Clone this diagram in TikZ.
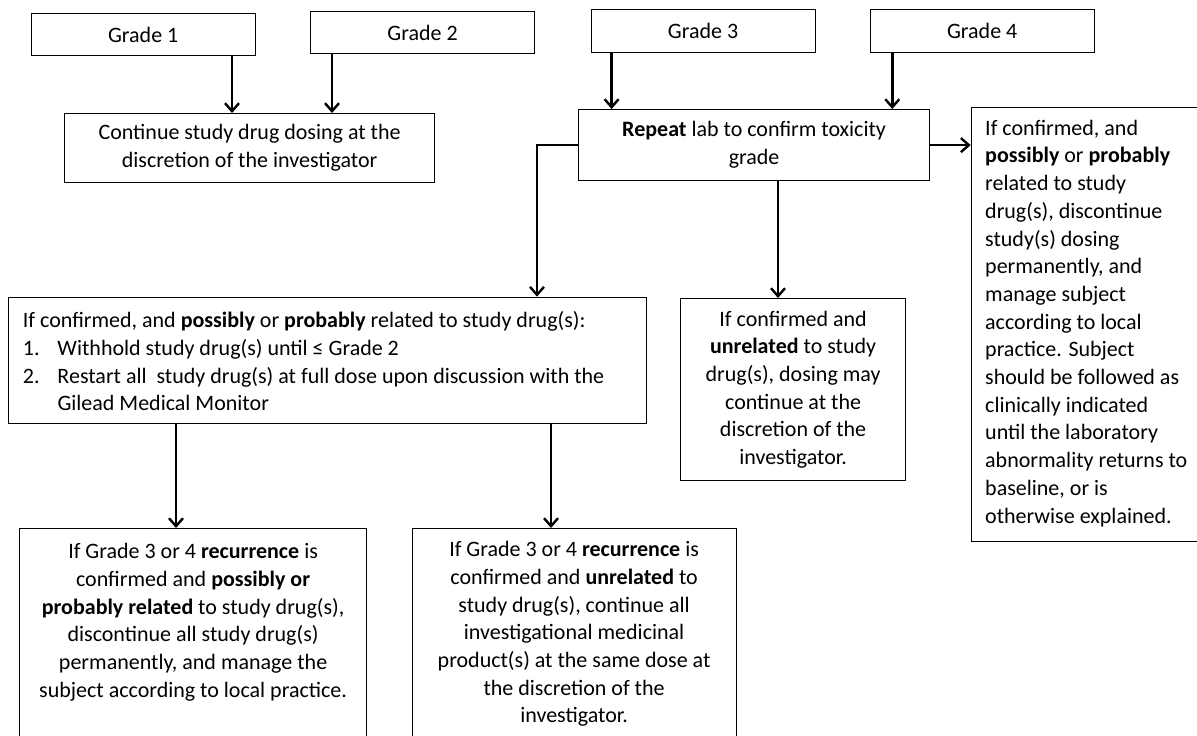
\documentclass[tikz,border=0pt]{standalone}
\usepackage{fontspec}
\setmainfont{Carlito}
\usetikzlibrary{arrows.meta,calc}
\begin{document}
\begin{tikzpicture}[x=1pt,y=-1pt,
  box/.style={draw, line width=1.2pt, inner sep=0pt, anchor=north west,
    font=\fontsize{22}{27.7}\selectfont},
  txt/.style={inner sep=0pt, anchor=west, align=left,
    font=\fontsize{22}{27.7}\selectfont},
  arr/.style={line width=2.4pt, -{Straight Barb[length=8pt,width=14pt]}},
]
\useasboundingbox (0,0) rectangle (1197,736);
\clip (0,0) rectangle (1197,736);

\node[box, minimum width=224pt, minimum height=42pt] (g1) at (30.6,13) {Grade 1};
\node[box, minimum width=224pt, minimum height=42pt] (g2) at (310,11) {Grade 2};
\node[box, minimum width=224pt, minimum height=43pt] (g3) at (590.5,9) {Grade 3};
\node[box, minimum width=224pt, minimum height=43pt] (g4) at (869.6,9) {Grade 4};

\node[box, align=center, minimum width=370pt, minimum height=69pt] (cont) at (64,113)
  {Continue study drug dosing at the\\discretion of the investigator};
\node[box, align=center, minimum width=351pt, minimum height=71pt] (rep) at (578,109)
  {\textbf{Repeat} lab to confirm toxicity\\grade};

\node[box, minimum width=226pt, minimum height=434pt] (rb) at (970.7,106.7) {};
\node[txt] (rbt) at ($(rb.west)+(14.3,-1)$)
  {If confirmed, and\\\textbf{possibly} or \textbf{probably}\\related to study\\drug(s), discontinue\\study(s) dosing\\permanently, and\\manage subject\\according to local\\practice. Subject\\should be followed as\\clinically indicated\\until the laboratory\\abnormality returns to\\baseline, or is\\otherwise explained.};

\node[box, minimum width=638pt, minimum height=126pt] (big) at (8,296.7) {};
\node[txt] (bigt) at ($(big.west)+(14.7,1)$)
  {If confirmed, and \textbf{possibly} or \textbf{probably} related to study drug(s):\\
   \makebox[34.6pt][l]{1.}Withhold study drug(s) until ≤ Grade 2\\
   \makebox[34.6pt][l]{2.}Restart all\ \ study drug(s) at full dose upon discussion with the\\
   \hspace*{34.6pt}Gilead Medical Monitor};

\node[box, align=center, minimum width=225pt, minimum height=182pt] (mid) at (680,298)
  {If confirmed and\\\textbf{unrelated} to study\\drug(s), dosing may\\continue at the\\discretion of the\\investigator.};
\node[box, align=center, minimum width=347pt, minimum height=211pt] (bl) at (19,528)
  {If Grade 3 or 4 \textbf{recurrence} is\\confirmed and \textbf{possibly or}\\\textbf{probably related} to study drug(s),\\discontinue all study drug(s)\\permanently, and manage the\\subject according to local practice.\\\mbox{}};
\node[box, align=center, minimum width=324pt, minimum height=211pt] (bm) at (411.5,528)
  {If Grade 3 or 4 \textbf{recurrence} is\\confirmed and \textbf{unrelated} to\\study drug(s), continue all\\investigational medicinal\\product(s) at the same dose at\\the discretion of the\\investigator.};

\coordinate (xa) at (232,0);
\coordinate (xb) at (332,0);
\coordinate (xc) at (611.6,0);
\coordinate (xd) at (892.3,0);
\coordinate (xe) at (537,0);
\coordinate (xf) at (778,0);
\coordinate (xg) at (176,0);
\coordinate (xh) at (551,0);

\draw[arr] (g1.south -| xa) -- (cont.north -| xa);
\draw[arr] (g2.south -| xb) -- (cont.north -| xb);
\draw[arr] (g3.south -| xc) -- (rep.north -| xc);
\draw[arr] (g4.south -| xd) -- (rep.north -| xd);
\draw[arr] (rep.east) -- (rep.east -| rb.west);
\draw[arr] (rep.west) -| (big.north -| xe);
\draw[arr] (rep.south -| xf) -- (mid.north -| xf);
\draw[arr] (big.south -| xg) -- (bl.north -| xg);
\draw[arr] (big.south -| xh) -- (bm.north -| xh);
\end{tikzpicture}
\end{document}
